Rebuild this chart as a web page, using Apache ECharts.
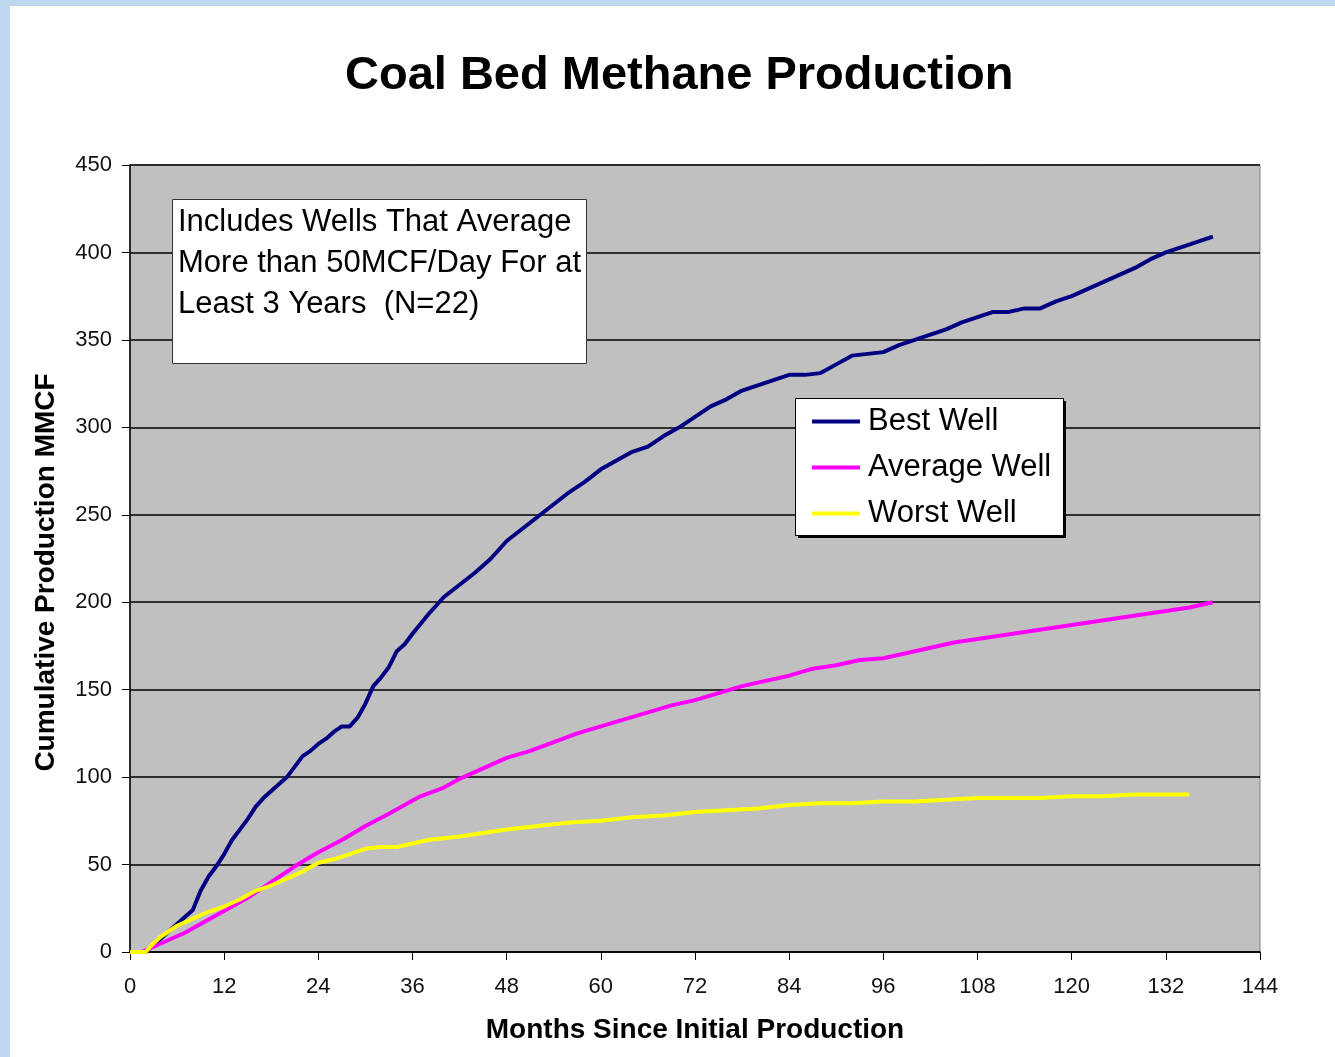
<!DOCTYPE html>
<html>
<head>
<meta charset="utf-8">
<script src="https://cdn.jsdelivr.net/npm/echarts@6/dist/echarts.min.js"></script>
<style>
  html, body { margin: 0; padding: 0; background: #BDD7EE; }
  #chart { position: absolute; left: 10px; top: 6px; width: 1325px; height: 1051px; background: #fff; }
</style>
</head>
<body>
<div id="chart"></div>
<script>
// months since initial production, cumulative MMCF
const bestWell = [
  [0, 0], [2, 0], [3, 4], [4, 8], [5, 12], [6, 16], [7, 20], [8, 24], [9, 35], [10, 43],
  [11, 49], [12, 56], [13, 64], [14, 70], [15, 76], [16, 83], [17, 88], [18, 92], [19, 96],
  [20, 100], [21, 106], [22, 112], [23, 115], [24, 119], [25, 122], [26, 126], [27, 129],
  [28, 129], [29, 134], [30, 142], [31, 152], [32, 157], [33, 163], [34, 172], [35, 176],
  [36, 182], [38, 193], [40, 203], [42, 210], [44, 217], [46, 225], [48, 235], [50, 242],
  [52, 249], [54, 256], [56, 263], [58, 269], [60, 276], [62, 281], [64, 286], [66, 289],
  [68, 295], [70, 300], [72, 306], [74, 312], [76, 316], [78, 321], [80, 324], [82, 327],
  [84, 330], [86, 330], [88, 331], [90, 336], [92, 341], [94, 342], [96, 343], [98, 347],
  [100, 350], [102, 353], [104, 356], [106, 360], [108, 363], [110, 366], [112, 366],
  [114, 368], [116, 368], [118, 372], [120, 375], [122, 379], [124, 383], [126, 387],
  [128, 391], [130, 396], [132, 400], [134, 403], [136, 406], [138, 409]
]
const averageWell = [
  [0, 0], [1.5, 0], [3, 3], [5, 7], [7, 11], [9, 16], [11, 21], [13, 26], [15, 31], [17, 37],
  [19, 43], [21, 49], [24, 57], [27, 64], [30, 72], [33, 79], [35, 84], [37, 89], [40, 94],
  [42, 99], [45, 105], [48, 111], [51, 115], [54, 120], [57, 125], [60, 129], [63, 133],
  [66, 137], [69, 141], [72, 144], [75, 148], [78, 152], [81, 155], [84, 158], [87, 162],
  [90, 164], [93, 167], [96, 168], [99, 171], [102, 174], [105, 177], [108, 179], [111, 181],
  [114, 183], [117, 185], [120, 187], [123, 189], [126, 191], [129, 193], [132, 195],
  [135, 197], [138, 200]
]
const worstWell = [
  [0, 0], [2, 0], [3, 5], [4, 9], [5, 12], [6, 15], [7, 17], [8, 19], [10, 23], [12, 26],
  [14, 30], [16, 35], [18, 38], [20, 42], [22, 46], [24, 51], [26, 53], [28, 56], [30, 59],
  [32, 60], [34, 60], [36, 62], [38, 64], [40, 65], [42, 66], [45, 68], [48, 70], [52, 72],
  [56, 74], [60, 75], [64, 77], [68, 78], [72, 80], [76, 81], [80, 82], [84, 84], [88, 85],
  [92, 85], [96, 86], [100, 86], [104, 87], [108, 88], [112, 88], [116, 88], [120, 89],
  [124, 89], [128, 90], [132, 90], [135, 90]
]
const seriesNames = ['Best Well', 'Average Well', 'Worst Well']
const seriesColors = ['#000080', '#FF00FF', '#FFFF00']
const noteLines = ['Includes Wells That Average', 'More than 50MCF/Day For at', 'Least 3 Years  (N=22)']

const font = 'Arial, "Liberation Sans", sans-serif'
let chart = echarts.init(document.getElementById('chart'))

function lineSeries (idx, data) {
  return {
    name: seriesNames[idx],
    type: 'line',
    data: data,
    symbol: 'none',
    color: seriesColors[idx],
    lineStyle: { width: 4, color: seriesColors[idx] },
    z: 3 + idx
  }
}

chart.setOption({
  animation: false,
  title: {
    text: 'Coal Bed Methane Production',
    left: 330,
    top: 42,
    textStyle: { fontFamily: font, fontSize: 47, fontWeight: 'bold', color: '#000' }
  },
  grid: {
    left: 120,
    right: 75,
    top: 159,
    bottom: 105,
    show: true,
    backgroundColor: '#C0C0C0',
    borderColor: '#808080',
    borderWidth: 1
  },
  legend: {
    orient: 'vertical',
    left: 785,
    top: 392,
    padding: [8, 14, 9, 17],
    itemWidth: 48,
    itemHeight: 4,
    itemGap: 15,
    icon: 'rect',
    z: 50,
    data: seriesNames,
    textStyle: { fontFamily: font, fontSize: 31, color: '#000', lineHeight: 30, padding: [0, 0, 0, 3] }
  },
  xAxis: {
    type: 'value',
    min: 0,
    max: 144,
    interval: 12,
    name: 'Months Since Initial Production',
    nameLocation: 'middle',
    nameGap: 64,
    nameTextStyle: { fontFamily: font, fontSize: 28, fontWeight: 'bold', color: '#000' },
    axisLine: { show: true, lineStyle: { color: '#000', width: 1.5 } },
    axisTick: { show: true, length: 8, lineStyle: { color: '#000' } },
    axisLabel: { fontFamily: font, fontSize: 22, color: '#111', margin: 24 },
    splitLine: { show: false }
  },
  yAxis: {
    type: 'value',
    min: 0,
    max: 450,
    interval: 50,
    name: 'Cumulative Production MMCF',
    nameLocation: 'middle',
    nameGap: 70,
    nameTextStyle: { fontFamily: font, fontSize: 28, fontWeight: 'bold', color: '#000', padding: [0, 28, 0, 0] },
    axisLine: { show: true, lineStyle: { color: '#000', width: 1.5 } },
    axisTick: { show: true, length: 8, lineStyle: { color: '#000' } },
    axisLabel: { fontFamily: font, fontSize: 22, color: '#111', margin: 18 },
    splitLine: { show: true, lineStyle: { color: '#000', width: 1.5 } }
  },
  graphic: [
    // note box
    {
      type: 'rect',
      left: 162,
      top: 193,
      z: 100,
      shape: { width: 414, height: 164 },
      style: { fill: '#fff', stroke: '#333', lineWidth: 1 }
    },
    {
      type: 'text',
      left: 168,
      top: 196,
      z: 101,
      style: {
        text: noteLines.join('\n'),
        font: '31px ' + font,
        fill: '#000',
        lineHeight: 41
      }
    },
    // legend frame with drop shadow
    {
      type: 'rect',
      left: 788,
      top: 395,
      z: 40,
      shape: { width: 268, height: 137 },
      style: { fill: '#000' }
    },
    {
      type: 'rect',
      left: 785,
      top: 392,
      z: 41,
      shape: { width: 268, height: 137 },
      style: { fill: '#fff', stroke: '#000', lineWidth: 1 }
    }
  ],
  series: [
    lineSeries(0, bestWell),
    lineSeries(1, averageWell),
    lineSeries(2, worstWell)
  ]
})
</script>
</body>
</html>
